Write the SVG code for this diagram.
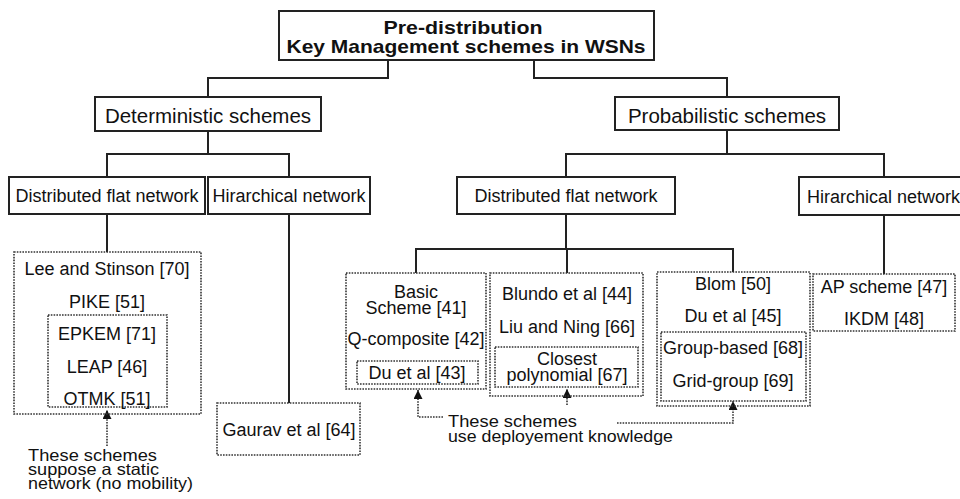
<svg xmlns="http://www.w3.org/2000/svg" width="960" height="499" viewBox="0 0 960 499">
<defs>
<style>
.box{fill:#fff;stroke:#222;stroke-width:2}
.dot{fill:none;stroke:#333;stroke-width:1.6;stroke-dasharray:1.6 1.2}
.t{font-family:"Liberation Sans",Arial,sans-serif;font-size:18px;fill:#111;text-anchor:middle}
.l1{font-size:20.5px}
.ti{font-weight:bold;font-size:18.5px}
.st{text-anchor:start}
.n{font-size:16.5px}
.con{fill:none;stroke:#222;stroke-width:2}
.ann{fill:none;stroke:#333;stroke-width:1.6;stroke-dasharray:1.6 1.2}
</style>
<marker id="ah" viewBox="0 0 10 10" refX="10" refY="5" markerWidth="10" markerHeight="9" markerUnits="userSpaceOnUse" orient="auto">
<path d="M0,0 L10,5 L0,10 z" fill="#111"/>
</marker>
</defs>
<rect width="960" height="499" fill="#fff"/>
<g id="connectors">
<path class="con" d="M388 60 V78 H208 V97"/>
<path class="con" d="M534 60 V78 H727 V97"/>
<path class="con" d="M208 131 V154 H107 V177 M208 154 H289 V177"/>
<path class="con" d="M727 130 V154 H566 V177 M727 154 H884 V177"/>
<path class="con" d="M107 214 V252"/>
<path class="con" d="M289 214 V403"/>
<path class="con" d="M566 214 V249 H416 V273 M566 249 H733 V272 M567 249 V273"/>
<path class="con" d="M884 215 V274"/>
<path class="ann" d="M107 446 V410" marker-end="url(#ah)"/>
<path class="ann" d="M443 417 H418 V390" marker-end="url(#ah)"/>
<path class="ann" d="M567 405 V389" marker-end="url(#ah)"/>
<path class="ann" d="M617 423 H733 V401" marker-end="url(#ah)"/>
</g>
<g id="root">
<rect class="box" x="279" y="11" width="375" height="49"/>
<text class="t ti" x="463" y="34" textLength="159" lengthAdjust="spacingAndGlyphs">Pre-distribution</text>
<text class="t ti" x="466" y="53" textLength="359" lengthAdjust="spacingAndGlyphs">Key Management schemes in WSNs</text>
</g>
<g id="deterministic">
<rect class="box" x="95" y="97" width="226" height="34"/>
<text class="t l1" x="208" y="123">Deterministic schemes</text>
</g>
<g id="probabilistic">
<rect class="box" x="615" y="97" width="224" height="33"/>
<text class="t l1" x="727" y="123">Probabilistic schemes</text>
</g>
<g id="det-flat">
<rect class="box" x="9" y="177" width="196" height="37"/>
<text class="t" x="107" y="202">Distributed flat network</text>
</g>
<g id="det-hier">
<rect class="box" x="208" y="177" width="162" height="37"/>
<text class="t" x="289" y="202">Hirarchical network</text>
</g>
<g id="prob-flat">
<rect class="box" x="457" y="177" width="218" height="37"/>
<text class="t" x="566" y="202">Distributed flat network</text>
</g>
<g id="prob-hier">
<rect class="box" x="799" y="177" width="175" height="38"/>
<text class="t st" x="807" y="203">Hirarchical network</text>
</g>
<g id="det-flat-list">
<rect class="dot" x="14" y="252" width="187" height="162"/>
<rect class="dot" x="48" y="315" width="119" height="92"/>
<text class="t" x="107" y="275">Lee and Stinson [70]</text>
<text class="t" x="107" y="308">PIKE [51]</text>
<text class="t" x="107" y="340">EPKEM [71]</text>
<text class="t" x="107" y="373">LEAP [46]</text>
<text class="t" x="107" y="405">OTMK [51]</text>
</g>
<g id="note-static">
<text class="t st n" x="28" y="461" textLength="129" lengthAdjust="spacingAndGlyphs">These schemes</text>
<text class="t st n" x="28" y="475" textLength="131" lengthAdjust="spacingAndGlyphs">suppose a static</text>
<text class="t st n" x="28" y="489" textLength="165" lengthAdjust="spacingAndGlyphs">network (no mobility)</text>
</g>
<g id="det-hier-list">
<rect class="dot" x="217" y="403" width="143" height="52"/>
<text class="t" x="289" y="436">Gaurav et al [64]</text>
</g>
<g id="basic-list">
<rect class="dot" x="346" y="273" width="140" height="116"/>
<text class="t" x="416" y="298">Basic</text>
<text class="t" x="416" y="314">Scheme [41]</text>
<text class="t" x="416" y="345">Q-composite [42]</text>
<rect class="dot" x="357" y="361" width="121" height="23"/>
<text class="t" x="417" y="379">Du et al [43]</text>
</g>
<g id="blundo-list">
<rect class="dot" x="490" y="273" width="153" height="123"/>
<text class="t" x="567" y="300">Blundo et al [44]</text>
<text class="t" x="567" y="333">Liu and Ning [66]</text>
<rect class="dot" x="495" y="347" width="143" height="40"/>
<text class="t" x="567" y="365">Closest</text>
<text class="t" x="567" y="381">polynomial [67]</text>
</g>
<g id="blom-list">
<rect class="dot" x="657" y="272" width="153" height="134"/>
<text class="t" x="733" y="290">Blom [50]</text>
<text class="t" x="733" y="322">Du et al [45]</text>
<rect class="dot" x="661" y="332" width="145" height="69"/>
<text class="t" x="733" y="354">Group-based [68]</text>
<text class="t" x="733" y="387">Grid-group [69]</text>
</g>
<g id="ap-list">
<rect class="dot" x="813" y="274" width="142" height="57"/>
<text class="t" x="884" y="293">AP scheme [47]</text>
<text class="t" x="884" y="325">IKDM [48]</text>
</g>
<g id="note-deploy">
<text class="t st n" x="448" y="427" textLength="129" lengthAdjust="spacingAndGlyphs">These schemes</text>
<text class="t st n" x="448" y="442" textLength="225" lengthAdjust="spacingAndGlyphs">use deployement knowledge</text>
</g>
</svg>
